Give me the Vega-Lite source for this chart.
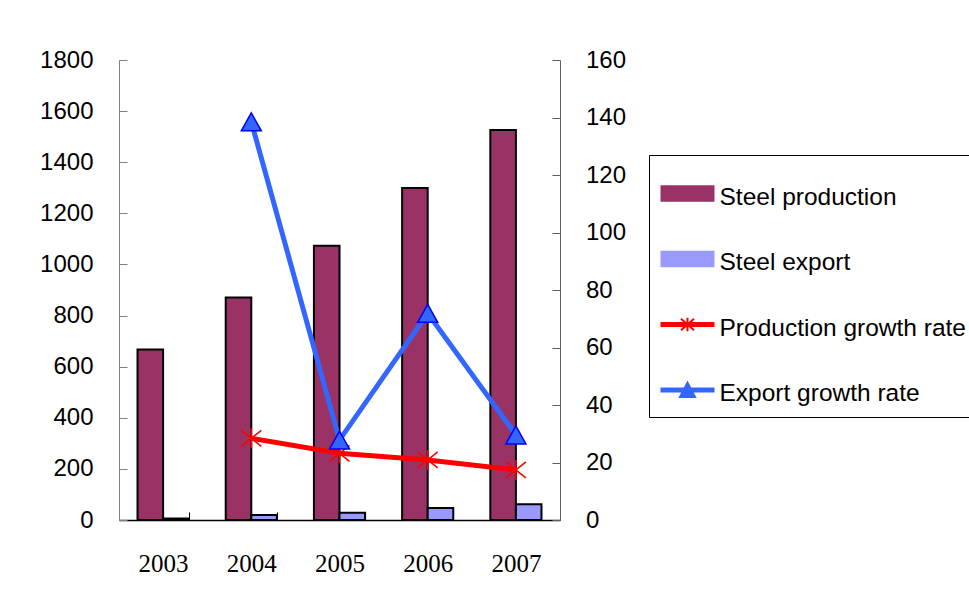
{
  "$schema": "https://vega.github.io/schema/vega-lite/v6.json",
  "width": 441,
  "height": 460,
  "autosize": {"type": "none"},
  "padding": {"left": 119, "top": 60, "right": 409, "bottom": 76},
  "background": "white",
  "config": {"view": {"stroke": null}, "font": "Liberation Sans", "style": {"guide-label": {"lineHeight": 8.5}}},
  "data": {
    "values": [
      {"year": "2003", "series": "Steel production", "kind": "bar", "value": 667},
      {"year": "2004", "series": "Steel production", "kind": "bar", "value": 871},
      {"year": "2005", "series": "Steel production", "kind": "bar", "value": 1073},
      {"year": "2006", "series": "Steel production", "kind": "bar", "value": 1299},
      {"year": "2007", "series": "Steel production", "kind": "bar", "value": 1526},
      {"year": "2003", "series": "Steel export", "kind": "bar", "value": 6},
      {"year": "2004", "series": "Steel export", "kind": "bar", "value": 20},
      {"year": "2005", "series": "Steel export", "kind": "bar", "value": 28},
      {"year": "2006", "series": "Steel export", "kind": "bar", "value": 47},
      {"year": "2007", "series": "Steel export", "kind": "bar", "value": 62},
      {"year": "2004", "series": "Production growth rate", "kind": "line", "value": 28.4},
      {"year": "2005", "series": "Production growth rate", "kind": "line", "value": 23.2},
      {"year": "2006", "series": "Production growth rate", "kind": "line", "value": 20.9},
      {"year": "2007", "series": "Production growth rate", "kind": "line", "value": 17.4},
      {"year": "2004", "series": "Export growth rate", "kind": "line", "value": 138.5},
      {"year": "2005", "series": "Export growth rate", "kind": "line", "value": 27.8},
      {"year": "2006", "series": "Export growth rate", "kind": "line", "value": 71.9},
      {"year": "2007", "series": "Export growth rate", "kind": "line", "value": 29.6}
    ]
  },
  "encoding": {
    "x": {
      "field": "year",
      "type": "nominal",
      "scale": {"paddingInner": 0.42, "paddingOuter": 0.21},
      "axis": {
        "title": null,
        "labelAngle": 0,
        "labelFont": "Liberation Serif",
        "labelFontSize": 25,
        "labelColor": "black",
        "labelPadding": 39,
        "domainColor": "black",
        "domainWidth": 1.5,
        "tickColor": "black",
        "tickSize": -8,
        "tickBand": "extent"
      }
    }
  },
  "layer": [
    {
      "transform": [{"filter": "datum.kind === 'bar'"}],
      "mark": {"type": "bar", "stroke": "black", "strokeWidth": 2, "opacity": 1},
      "encoding": {
        "xOffset": {
          "field": "series",
          "type": "nominal",
          "sort": ["Steel production", "Steel export"],
          "scale": {"paddingInner": 0, "paddingOuter": 0}
        },
        "y": {
          "field": "value",
          "type": "quantitative",
          "scale": {"domain": [0, 1800]},
          "axis": {
            "orient": "left",
            "title": null,
            "grid": false,
            "format": "d",
            "values": [0, 200, 400, 600, 800, 1000, 1200, 1400, 1600, 1800],
            "labelFontSize": 24,
            "labelColor": "black",
            "labelPadding": 34,
            "domainColor": "#808080",
            "tickColor": "#808080",
            "tickSize": -8
          }
        },
        "color": {
          "field": "series",
          "type": "nominal",
          "scale": {
            "domain": ["Steel production", "Steel export", "Production growth rate", "Export growth rate"],
            "range": ["#993366", "#9999FF", "#FF0000", "#3366FF"]
          },
          "legend": {
            "orient": "none",
            "legendX": 530,
            "legendY": 95,
            "title": null,
            "direction": "vertical",
            "symbolSize": 2704,
            "rowPadding": 22.5,
            "padding": 11.5,
            "labelFont": "Liberation Sans",
            "labelFontSize": 24.5,
            "labelColor": "black",
            "labelBaseline": "line-top",
            "labelOffset": 5,
            "labelLimit": 400,
            "strokeColor": "black",
            "fillColor": "white",
            "symbolOpacity": 1,
            "symbolStrokeWidth": 2,
            "symbolType": {"expr": "indexof(['Steel production','Steel export'], datum.value) >= 0 ? 'M-1,-0.28H1V0.28H-1Z' : datum.value === 'Production growth rate' ? 'M-1,-0.055H1V0.055H-1Z M-0.25,-0.22L0.25,0.22 M-0.25,0.22L0.25,-0.22 M0,-0.26V0.26' : 'M-1,-0.055H1V0.055H-1Z M0,-0.28L0.29,0.27H-0.29Z'"},
            "symbolStrokeColor": {"expr": "indexof(['Steel production','Steel export'], datum.value) >= 0 ? 'black' : datum.value === 'Production growth rate' ? '#FF0000' : '#0000FF'"}
          }
        }
      }
    },
    {
      "layer": [
        {
          "transform": [{"filter": "datum.kind === 'line'"}],
          "mark": {"type": "line", "strokeWidth": 5},
          "encoding": {
            "y": {
              "field": "value",
              "type": "quantitative",
              "scale": {"domain": [0, 160]},
              "axis": {
                "orient": "right",
                "title": null,
                "grid": false,
                "values": [0, 20, 40, 60, 80, 100, 120, 140, 160],
                "labelFontSize": 24,
                "labelColor": "black",
                "labelPadding": 33.5,
                "domainColor": "#606060",
                "tickColor": "#606060",
                "tickSize": -8
              }
            },
            "color": {"field": "series", "type": "nominal"}
          }
        },
        {
          "transform": [{"filter": "datum.series === 'Production growth rate'"}],
          "mark": {
            "type": "point",
            "shape": "M-1,-0.8L1,0.8M-1,0.8L1,-0.8M0,-1V1",
            "size": 400,
            "filled": false,
            "stroke": "#FF0000",
            "strokeWidth": 1.6,
            "opacity": 1
          },
          "encoding": {"y": {"field": "value", "type": "quantitative"}}
        },
        {
          "transform": [{"filter": "datum.series === 'Export growth rate'"}],
          "mark": {
            "type": "point",
            "shape": "M0,-0.9L1,0.9H-1Z",
            "size": 400,
            "filled": true,
            "fill": "#3366FF",
            "stroke": "#0000FF",
            "strokeWidth": 1.5,
            "opacity": 1
          },
          "encoding": {"y": {"field": "value", "type": "quantitative"}}
        }
      ]
    }
  ],
  "resolve": {"scale": {"y": "independent"}}
}
